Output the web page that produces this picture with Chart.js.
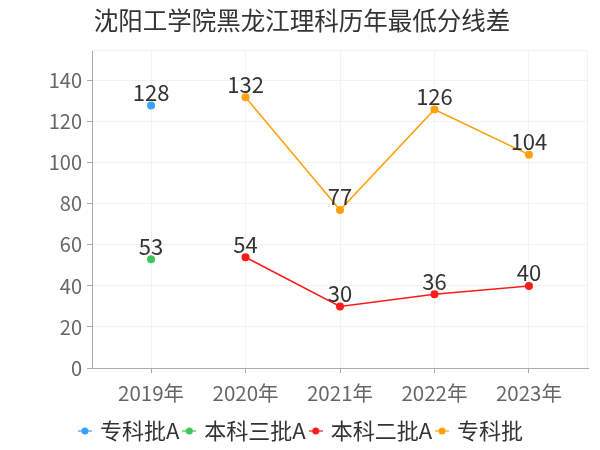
<!DOCTYPE html>
<html>
<head>
<meta charset="utf-8">
<script src="https://cdn.jsdelivr.net/npm/chart.js@4/dist/chart.umd.min.js"></script>
<style>
html,body{margin:0;padding:0;background:#fff;}
#wrap{width:600px;height:450px;}
</style>
</head>
<body>
<div id="wrap"><canvas id="c" width="600" height="450"></canvas></div>
<script>
const title = '沈阳工学院黑龙江理科历年最低分线差';
const categories = ['2019年', '2020年', '2021年', '2022年', '2023年'];
const seriesNames = ['专科批A', '本科三批A', '本科二批A', '专科批'];
const zhuankeA = [128, null, null, null, null];
const benkeSanA = [53, null, null, null, null];
const benkeErA = [null, 54, 30, 36, 40];
const zhuanke = [null, 132, 77, 126, 104];
const yTicks = [0, 20, 40, 60, 80, 100, 120, 140];
const colors = ['#3aa0ff', '#3fc55a', '#ff1a1a', '#ffa00a'];

const FONT = "'Noto Sans CJK SC', 'Noto Sans', sans-serif";
const allSeries = [zhuankeA, benkeSanA, benkeErA, zhuanke];

function markerCanvas(color) {
  const cv = document.createElement('canvas');
  cv.width = 14; cv.height = 10;
  const g = cv.getContext('2d');
  g.strokeStyle = color; g.globalAlpha = 0.6; g.lineWidth = 2;
  g.beginPath(); g.moveTo(0, 5); g.lineTo(14, 5); g.stroke();
  g.globalAlpha = 1; g.fillStyle = color;
  g.beginPath(); g.arc(7, 5, 3.5, 0, Math.PI * 2); g.fill();
  return cv;
}

const datasets = allSeries.map((arr, i) => ({
  label: seriesNames[i],
  data: arr.map((v, k) => v === null ? null : {x: k, y: v}).filter(p => p !== null),
  borderColor: colors[i],
  backgroundColor: colors[i],
  borderWidth: 1.5,
  pointRadius: 4,
  pointHoverRadius: 4,
  pointBorderWidth: 0,
  pointStyle: 'circle',
  fill: false,
  tension: 0
}));

const labelPlugin = {
  id: 'valueLabels',
  afterDatasetsDraw(chart) {
    const ctx = chart.ctx;
    ctx.save();
    ctx.font = "22px " + FONT;
    ctx.fillStyle = '#333';
    ctx.textAlign = 'center';
    ctx.textBaseline = 'middle';
    chart.data.datasets.forEach((ds, i) => {
      const meta = chart.getDatasetMeta(i);
      meta.data.forEach((el, j) => {
        ctx.fillText(String(ds.data[j].y), el.x, el.y - 13);
      });
    });
    ctx.restore();
  }
};

const framePlugin = {
  id: 'frame',
  beforeDatasetsDraw(chart) {
    const a = chart.chartArea, ctx = chart.ctx;
    ctx.save();
    ctx.strokeStyle = '#f2f2f2';
    ctx.lineWidth = 1;
    ctx.beginPath();
    ctx.moveTo(a.left, a.top + 0.5); ctx.lineTo(a.right - 0.5, a.top + 0.5); ctx.lineTo(a.right - 0.5, a.bottom);
    ctx.stroke();
    ctx.restore();
  }
};

new Chart(document.getElementById('c'), {
  type: 'line',
  data: { datasets },
  plugins: [labelPlugin, framePlugin],
  options: {
    responsive: false,
    animation: false,
    events: [],
    layout: { padding: { left: 16, right: 12, top: 0, bottom: -2 } },
    plugins: {
      title: {
        display: true, text: title, color: '#333',
        font: { family: FONT, size: 24.5, weight: 'normal' },
        padding: { top: 6, bottom: 14.6 }
      },
      legend: {
        position: 'bottom',
        labels: {
          usePointStyle: true,
          pointStyleWidth: 8,
          color: '#333',
          font: { family: FONT, size: 22 },
          padding: 6,
          generateLabels(chart) {
            return chart.data.datasets.map((ds, i) => ({
              text: ds.label, fillStyle: colors[i], strokeStyle: colors[i],
              pointStyle: markerCanvas(colors[i]), datasetIndex: i, hidden: false, lineWidth: 0,
              fontColor: '#333'
            }));
          }
        }
      },
      tooltip: { enabled: false }
    },
    scales: {
      x: {
        type: 'linear', min: -0.625, max: 4.625,
        afterBuildTicks(s) { s.ticks = categories.map((c, i) => ({ value: i })); },
        afterFit(s) { s.height = 46; },
        ticks: {
          callback: (v) => categories[v],
          color: '#666', font: { family: FONT, size: 20.5 }, padding: 8, maxRotation: 0
        },
        grid: { color: '#f2f2f2', tickColor: '#aaa', tickLength: 5 },
        border: { color: '#aaa' }
      },
      y: {
        min: 0, max: 155,
        afterBuildTicks(s) { s.ticks = yTicks.map(v => ({ value: v })); },
        afterFit(s) { s.width = 76; },
        ticks: { color: '#666', font: { family: FONT, size: 20 }, padding: 5 },
        grid: { color: '#f2f2f2', tickColor: '#aaa', tickLength: 5 },
        border: { color: '#aaa' }
      }
    }
  }
});
</script>
</body>
</html>
